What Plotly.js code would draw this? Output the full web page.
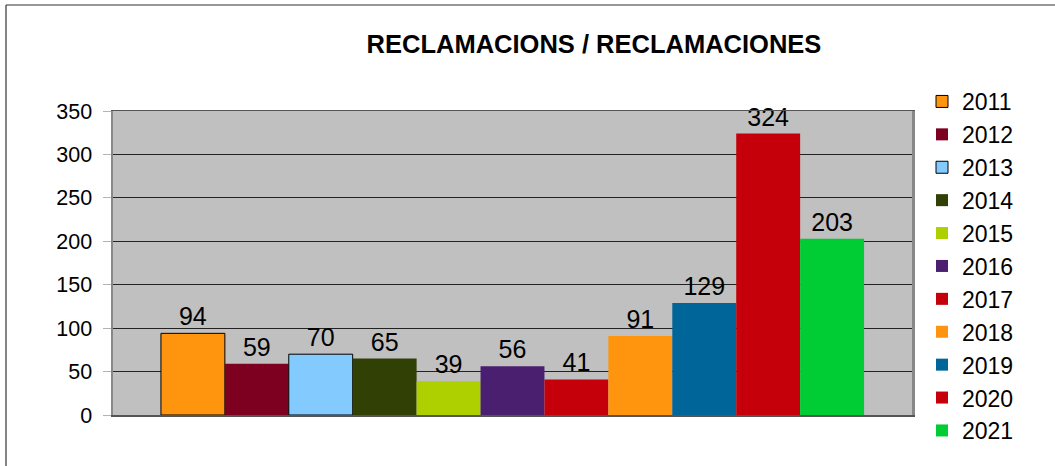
<!DOCTYPE html>
<html>
<head>
<meta charset="utf-8">
<script src="https://cdn.plot.ly/plotly-3.0.1.min.js"></script>
<style>html,body{margin:0;padding:0;background:#fff;}#chart{width:1055px;height:466px;}</style>
</head>
<body>
<div id="chart"></div>
<script>
const years = ["2011","2012","2013","2014","2015","2016","2017","2018","2019","2020","2021"];
const values = [94, 59, 70, 65, 39, 56, 41, 91, 129, 324, 203];
const colors = ["#ff950e","#7e0021","#83caff","#314004","#aecf00","#4b1f6f","#c5000b","#ff950e","#006699","#c5000b","#00cc33"];
const outlined = [true,false,true,false,false,false,false,false,false,false,false];
const category = [""];
const yTicks = [0,50,100,150,200,250,300,350];

const traces = years.map((yr, i) => ({
  type: "bar",
  name: yr,
  x: category,
  y: [values[i]],
  text: [String(values[i])],
  textposition: "outside",
  cliponaxis: false,
  textfont: {family: "Liberation Sans, Arial, sans-serif", size: 25, color: "#000"},
  marker: {color: colors[i], line: {color: outlined[i] ? "#000" : colors[i], width: outlined[i] ? 1 : 0}},
  hoverinfo: "none"
}));

const W = 1055, H = 466;
const L = 113, R = 143, T = 111, B = 51;
const pw = W - L - R, ph = H - T - B;
const px = v => (v - L) / pw;
const py = v => (H - B - v) / ph;

const layout = {
  width: W, height: H,
  margin: {l: L, r: R, t: T, b: B, pad: 0},
  paper_bgcolor: "#ffffff",
  plot_bgcolor: "#c0c0c0",
  font: {family: "Liberation Sans, Arial, sans-serif", color: "#000"},
  title: {text: "<b>RECLAMACIONS / RECLAMACIONES</b>", font: {size: 25.5, color: "#000"},
          x: 594/W, xanchor: "center", xref: "container", y: 1 - 44/H, yanchor: "middle", yref: "container"},
  barmode: "group",
  bargap: 0.12,
  bargroupgap: 0,
  showlegend: true,
  legend: {xref: "container", yref: "container", x: 922/W, y: 1 - 80/H, xanchor: "left", yanchor: "top",
           maxheight: 1000,
           font: {size: 23, color: "#000"}, bgcolor: "rgba(0,0,0,0)", borderwidth: 0, itemclick: false},
  xaxis: {type: "category", showticklabels: false, ticks: "", showgrid: false, zeroline: false,
          showline: true, mirror: true, linecolor: "#555", linewidth: 1.5, fixedrange: true},
  yaxis: {range: [0, 350], tickvals: yTicks, ticktext: yTicks.map(String), ticks: "outside", ticklen: 8,
          tickcolor: "#b3b3b3", tickwidth: 1, ticklabelstandoff: 6,
          tickfont: {size: 21.5, color: "#000"}, showgrid: true, gridcolor: "#222", gridwidth: 1,
          zeroline: false, showline: true, mirror: true, linecolor: "#888", linewidth: 2.5, fixedrange: true},
  shapes: [
    {type: "line", xref: "paper", yref: "paper", x0: px(6), x1: px(6), y0: py(5), y1: py(H + 5), line: {color: "#333", width: 1.2}},
    {type: "line", xref: "paper", yref: "paper", x0: px(6), x1: px(W + 5), y0: py(5), y1: py(5), line: {color: "#333", width: 1.2}}
  ]
};

Plotly.newPlot("chart", traces, layout, {staticPlot: true, displayModeBar: false});
</script>
</body>
</html>
